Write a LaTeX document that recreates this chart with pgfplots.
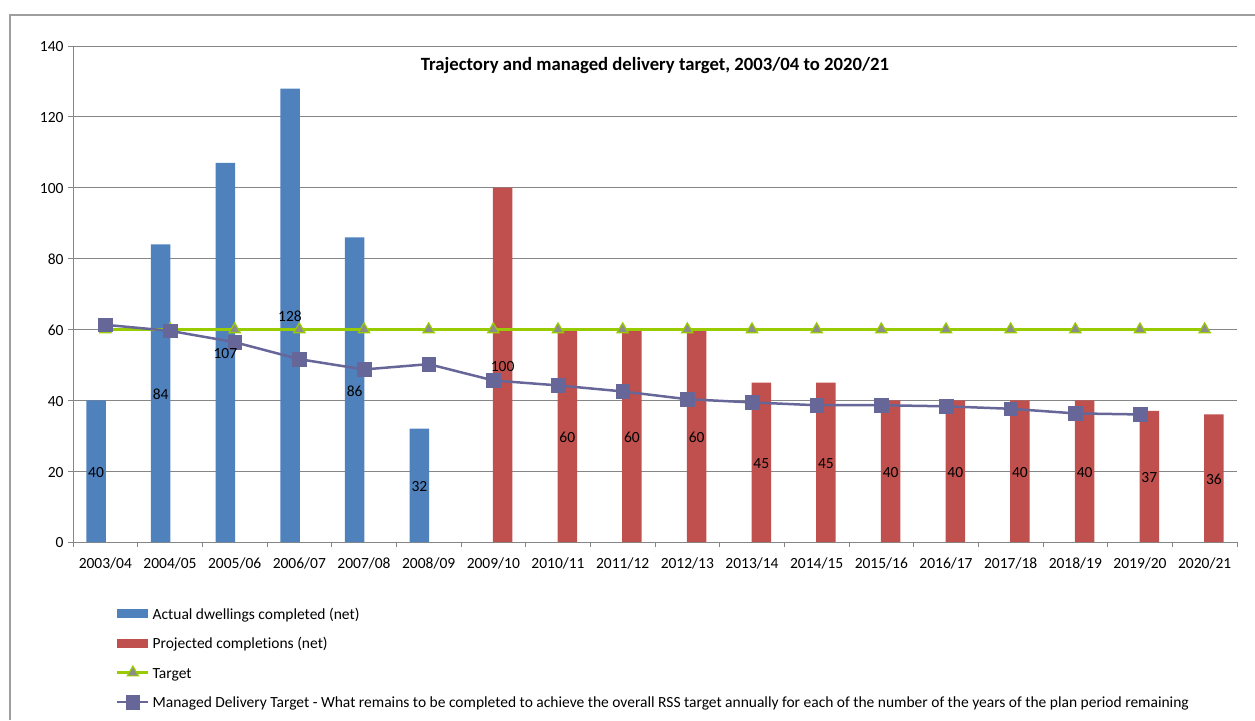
\documentclass[border=0pt]{standalone}
\usepackage{pgfplots}
\pgfplotsset{compat=1.18}
\usepackage{pgfplotstable}
\usepackage{fontspec}
\setmainfont{Carlito}[Ligatures=NoCommon]

\definecolor{actualblue}{RGB}{79,129,189}
\definecolor{projred}{RGB}{192,80,77}
\definecolor{targetgreen}{RGB}{153,204,0}
\definecolor{targetgrey}{RGB}{140,140,140}
\definecolor{mdtpurple}{RGB}{102,102,153}
\definecolor{gridgrey}{RGB}{134,134,134}

\newcommand\chartfont{\fontsize{15.5}{18}\selectfont}

\pgfplotsset{
  wideline legend/.style={legend image code/.code={%
    \draw[mark repeat=2,mark phase=2,##1] plot coordinates {(0pt,0pt) (15.5pt,0pt) (31pt,0pt)};
    \path (32pt,0pt);}},
  patch legend/.style={legend image code/.code={%
    \path[##1,draw=none] (0pt,-4.5pt) rectangle (31pt,4.5pt);
    \path (32pt,0pt);}},
  midlabels/.style={
    visualization depends on=rawy\as\rawy,
    nodes near coords,
    every node near coord/.append style={anchor=center, text=black,
      font=\chartfont, xshift=#1, yshift=-1.5pt, shift={(axis direction cs:0,-\rawy/2)}}},
}

% Completions, one table per series; x is the year index (0 = 2003/04)
\pgfplotstableread{
x y
0 40
1 84
2 107
3 128
4 86
5 32
}\actual
\pgfplotstableread{
x y
6 100
7 60
8 60
9 60
10 45
11 45
12 40
13 40
14 40
15 40
16 37
17 36
}\projected
\pgfplotstableread{
x y
0 60
1 60
2 60
3 60
4 60
5 60
6 60
7 60
8 60
9 60
10 60
11 60
12 60
13 60
14 60
15 60
16 60
17 60
}\target
\pgfplotstableread{
x y
0 61.3
1 59.6
2 56.4
3 51.6
4 48.7
5 50.2
6 45.6
7 44.2
8 42.5
9 40.3
10 39.4
11 38.6
12 38.6
13 38.3
14 37.6
15 36.3
16 36.0
}\managed

\begin{document}
\begin{tikzpicture}[x=1pt,y=1pt,font=\chartfont]
\path[use as bounding box] (0,0) rectangle (1255,720);
% chart frame
\draw[gridgrey!80,line width=1.2pt] (10,0) -- (10,705) -- (1255,705);
\begin{axis}[
  at={(73pt,178pt)}, anchor=south west,
  scale only axis, width=1164pt, height=496pt,
  xmin=-0.5, xmax=17.5, ymin=0, ymax=140,
  ytick={0,20,...,140},
  xtick={0,...,17},
  xticklabels={2003/04,2004/05,2005/06,2006/07,2007/08,2008/09,2009/10,2010/11,2011/12,2012/13,2013/14,2014/15,2015/16,2016/17,2017/18,2018/19,2019/20,2020/21},
  minor xtick={-0.5,0.5,...,17.5},
  major x tick style={draw=none},
  minor tick length=5pt, major tick length=5pt,
  tick align=outside,
  tick style={gridgrey, line width=0.8pt},
  axis x line*=bottom, axis y line*=left,
  x axis line style={-, gridgrey, line width=1pt},
  y axis line style={-, gridgrey, line width=1pt},
  ymajorgrids, major grid style={gridgrey, line width=0.8pt},
  /pgf/number format/assume math mode=true,
  tick label style={font=\chartfont},
  xticklabel style={yshift=-7pt},
  yticklabel style={xshift=-1pt, yshift=-1pt},
  title={\textbf{Trajectory and managed delivery target, 2003/04 to 2020/21}},
  title style={at={(0.5,0.9476)}, anchor=center, font=\fontsize{18.7}{22}\selectfont},
  legend style={at={(0.0369,-0.1258)}, anchor=north west, draw=none, fill=none,
    inner sep=0pt, row sep=11.4pt, font=\chartfont},
  legend cell align=left,
  clip=false,
]
\addplot[ybar, bar width=19.5pt, bar shift=-9.3pt, fill=actualblue, draw=none,
  patch legend]
  table[x=x,y=y] {\actual};
\addlegendentry{\strut Actual dwellings completed (net)}
\addplot[ybar, bar width=19.5pt, bar shift=9.3pt, fill=projred, draw=none,
  patch legend]
  table[x=x,y=y] {\projected};
\addlegendentry{\strut Projected completions (net)}
\addplot[targetgreen, line width=2.5pt, mark=triangle*, mark size=6.5pt,
  mark options={fill=targetgrey, draw=targetgreen, line width=1.2pt},
  wideline legend]
  table[x=x,y=y] {\target};
\addlegendentry{\strut Target}
\addplot[mdtpurple, line width=2.5pt, mark=square*, mark size=6.8pt,
  mark options={fill=mdtpurple, draw=mdtpurple, line width=0.5pt},
  wideline legend]
  table[x=x,y=y] {\managed};
\addlegendentry{\strut Managed Delivery Target - What remains to be completed to achieve the overall RSS target annually for each of the number of the years of the plan period remaining}
% value labels, set in the middle of each bar, above the lines
\addplot[ybar, bar width=19.5pt, bar shift=-9.3pt, draw=none, fill=none, forget plot, midlabels=-9.3pt]
  table[x=x,y=y] {\actual};
\addplot[ybar, bar width=19.5pt, bar shift=9.3pt, draw=none, fill=none, forget plot, midlabels=9.3pt]
  table[x=x,y=y] {\projected};
\end{axis}
\end{tikzpicture}
\end{document}
